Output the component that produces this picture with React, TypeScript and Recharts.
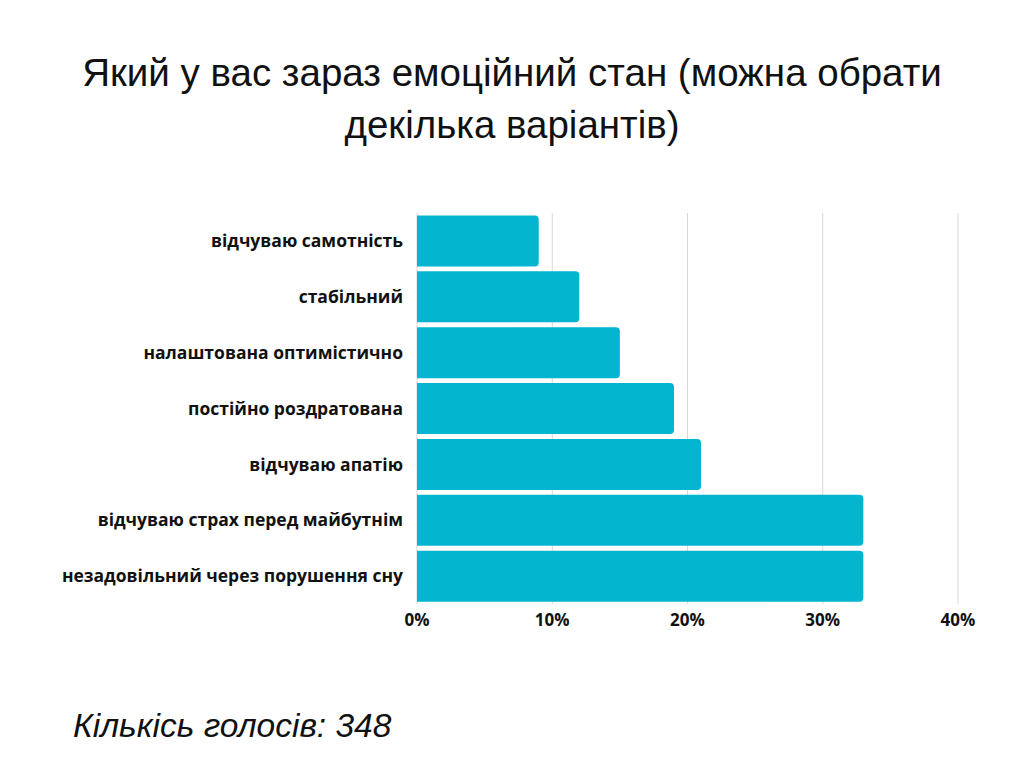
import { BarChart, Bar, XAxis, YAxis, CartesianGrid } from "recharts"

const categories = [
  "відчуваю самотність",
  "стабільний",
  "налаштована оптимістично",
  "постійно роздратована",
  "відчуваю апатію",
  "відчуваю страх перед майбутнім",
  "незадовільний через порушення сну",
]
const shares = [9, 12, 15, 19, 21, 33, 33]
const xTicks = [0, 10, 20, 30, 40]

const data = categories.map((name, i) => ({ name, value: shares[i] }))

const tickStyle = { fontSize: 17.5, fontWeight: 700, fill: "#111", fontFamily: "'Open Sans', sans-serif" }

export default function App() {
  return (
    <div
      style={{
        position: "absolute",
        left: 0,
        top: 0,
        width: 1024,
        height: 768,
        background: "#fff",
        fontFamily: "'Liberation Sans', Arial, sans-serif",
      }}
    >
      <div
        style={{
          position: "absolute",
          top: 47,
          left: 0,
          width: 1024,
          textAlign: "center",
          fontSize: 38.5,
          lineHeight: "52px",
          color: "#111",
        }}
      >
        Який у вас зараз емоційний стан (можна обрати
        <br />
        декілька варіантів)
      </div>
      <div style={{ position: "absolute", top: 0, left: 0 }}>
        <BarChart
          width={1024}
          height={768}
          data={data}
          layout="vertical"
          margin={{ top: 213, right: 66, bottom: 134, left: 0 }}
          barCategoryGap={2.5}
        >
          <CartesianGrid horizontal={false} stroke="#d9d9d9" />
          <XAxis
            type="number"
            domain={[0, 40]}
            ticks={xTicks}
            tickFormatter={(v) => `${v}%`}
            axisLine={false}
            tickLine={false}
            tickSize={0}
            tickMargin={10}
            height={30}
            tick={{ ...tickStyle, fontSize: 17 }}
          />
          <YAxis
            type="category"
            dataKey="name"
            width={417}
            axisLine={false}
            tickLine={false}
            tickSize={0}
            tickMargin={14}
            tick={tickStyle}
          />
          <Bar dataKey="value" fill="#03b5cf" radius={[0, 4, 4, 0]} isAnimationActive={false} />
        </BarChart>
      </div>
      <div
        style={{
          position: "absolute",
          left: 73,
          top: 707,
          fontSize: 33.5,
          fontStyle: "italic",
          color: "#111",
        }}
      >
        Кількісь голосів: 348
      </div>
    </div>
  )
}
